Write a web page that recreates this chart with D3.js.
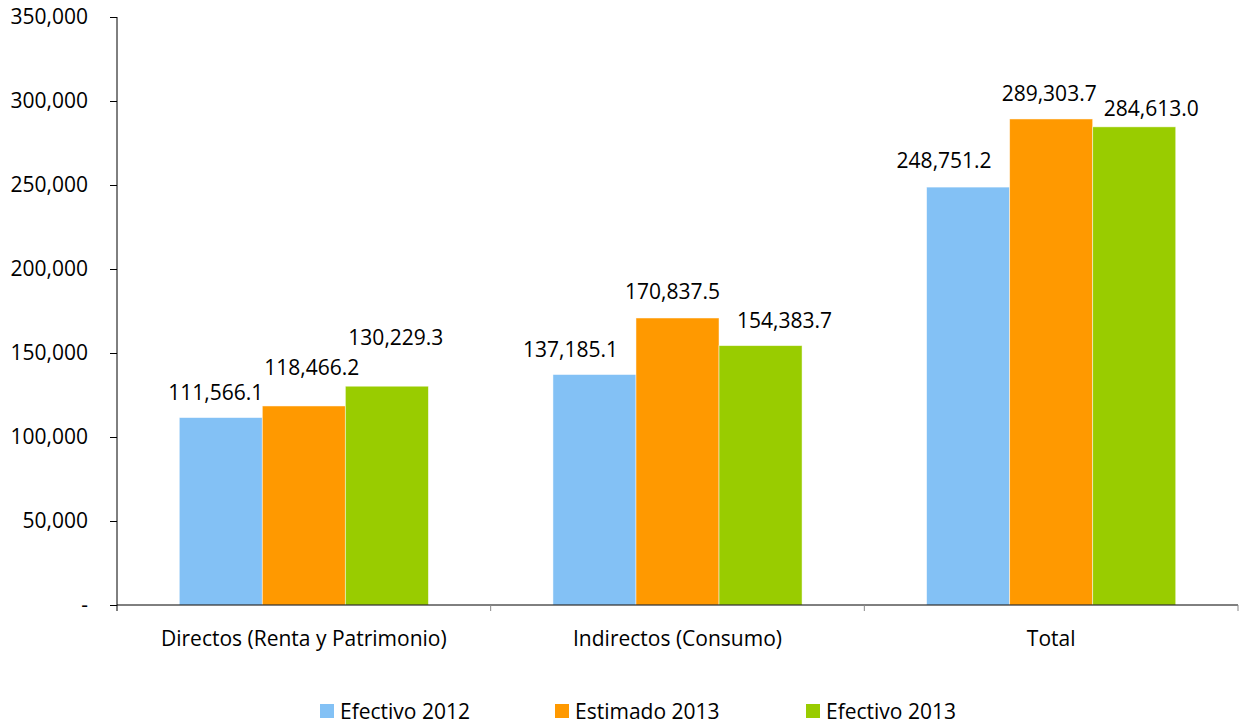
<!DOCTYPE html>
<html lang="es">
<head>
<meta charset="utf-8">
<style>
  body { margin: 0; background: #fff; }
  text { font-family: "Open Sans", sans-serif; fill: #000; }
</style>
</head>
<body>
<div id="chart"></div>
<script src="https://cdn.jsdelivr.net/npm/d3@7/dist/d3.min.js"></script>
<script>

var categories = ["Directos (Renta y Patrimonio)", "Indirectos (Consumo)", "Total"];
var seriesNames = ["Efectivo 2012", "Estimado 2013", "Efectivo 2013"];
var efectivo2012 = [111566.1, 137185.1, 248751.2];
var estimado2013 = [118466.2, 170837.5, 289303.7];
var efectivo2013 = [130229.3, 154383.7, 284613.0];
var yTicks = [0, 50000, 100000, 150000, 200000, 250000, 300000, 350000];

var colors = ["#83c1f5", "#ff9900", "#99cc00"];
var series = [efectivo2012, estimado2013, efectivo2013];

// hand-placed label nudges [dx, lift] per series, per category (as in the original)
var labelNudge = [
  [[-5, 18], [-24, 18], [-24, 19]],
  [[8, 31], [-5, 19], [-2, 18]],
  [[9, 41], [24, 18], [17, 11]]
];

var w = 1239, h = 724;
var mLeft = 117, mRight = 1238, mTop = 17, mBottom = 605;

var svg = d3.select("#chart").append("svg")
  .attr("width", w)
  .attr("height", h);

var x = d3.scaleBand()
  .domain(categories)
  .range([mLeft, mRight])
  .paddingInner(0)
  .paddingOuter(0);

var x1 = d3.scaleBand()
  .domain(d3.range(series.length))
  .range([0, x.bandwidth()])
  .paddingOuter(0.75)
  .paddingInner(0);

var y = d3.scaleLinear()
  .domain([0, 350000])
  .range([mBottom, mTop]);

var fmtTick = function(d){ return d === 0 ? "-" : d3.format(",")(d); };
var fmtLabel = d3.format(",.1f");

// y axis
var yAxis = svg.append("g")
  .attr("transform", "translate(" + mLeft + ",0)")
  .call(d3.axisLeft(y).tickValues(yTicks).tickFormat(fmtTick).tickSize(7).tickPadding(22));
yAxis.select(".domain").attr("stroke", "#000").attr("d", "M0," + mTop + "V" + mBottom);
yAxis.selectAll(".tick line").attr("stroke", "#000");
yAxis.selectAll(".tick text").style("font-size", "21px").style("font-family", "'Open Sans', sans-serif");

// bars
categories.forEach(function(cat, ci){
  series.forEach(function(s, si){
    svg.append("rect")
      .attr("x", x(cat) + x1(si))
      .attr("y", y(s[ci]))
      .attr("width", x1.bandwidth())
      .attr("height", y(0) - y(s[ci]))
      .attr("fill", colors[si])
      .attr("stroke", "#fff")
      .attr("stroke-opacity", 0.6)
      .attr("stroke-width", 0.8);
  });
});

// value labels
categories.forEach(function(cat, ci){
  series.forEach(function(s, si){
    var n = labelNudge[si][ci];
    svg.append("text")
      .attr("x", x(cat) + x1(si) + x1.bandwidth() / 2 + n[0])
      .attr("y", y(s[ci]) - n[1])
      .attr("text-anchor", "middle")
      .style("font-size", "21px")
      .text(fmtLabel(s[ci]));
  });
});

// x axis
svg.append("line")
  .attr("x1", mLeft).attr("x2", mRight)
  .attr("y1", mBottom).attr("y2", mBottom)
  .attr("stroke", "#000");

var bounds = categories.map(function(c){ return x(c); }).concat([mRight]);
svg.selectAll(".xtick")
  .data(bounds)
  .enter().append("line")
  .attr("class", "xtick")
  .attr("x1", function(d){ return d; })
  .attr("x2", function(d){ return d; })
  .attr("y1", mBottom)
  .attr("y2", mBottom + 6)
  .attr("stroke", function(d, i){ return i === 0 ? "#000" : "#888"; });

svg.selectAll(".xlabel")
  .data(categories)
  .enter().append("text")
  .attr("class", "xlabel")
  .attr("x", function(d){ return x(d) + x.bandwidth() / 2; })
  .attr("y", 646)
  .attr("text-anchor", "middle")
  .style("font-size", "21px")
  .text(function(d){ return d; });

// legend
var legendX = [320, 555, 806];
var legend = svg.selectAll(".legend")
  .data(seriesNames)
  .enter().append("g")
  .attr("class", "legend")
  .attr("transform", function(d, i){ return "translate(" + legendX[i] + ",704)"; });

legend.append("rect")
  .attr("width", 14)
  .attr("height", 14)
  .attr("fill", function(d, i){ return colors[i]; });

legend.append("text")
  .attr("x", 20)
  .attr("y", 15)
  .style("font-size", "21px")
  .text(function(d){ return d; });

</script>
</body>
</html>
